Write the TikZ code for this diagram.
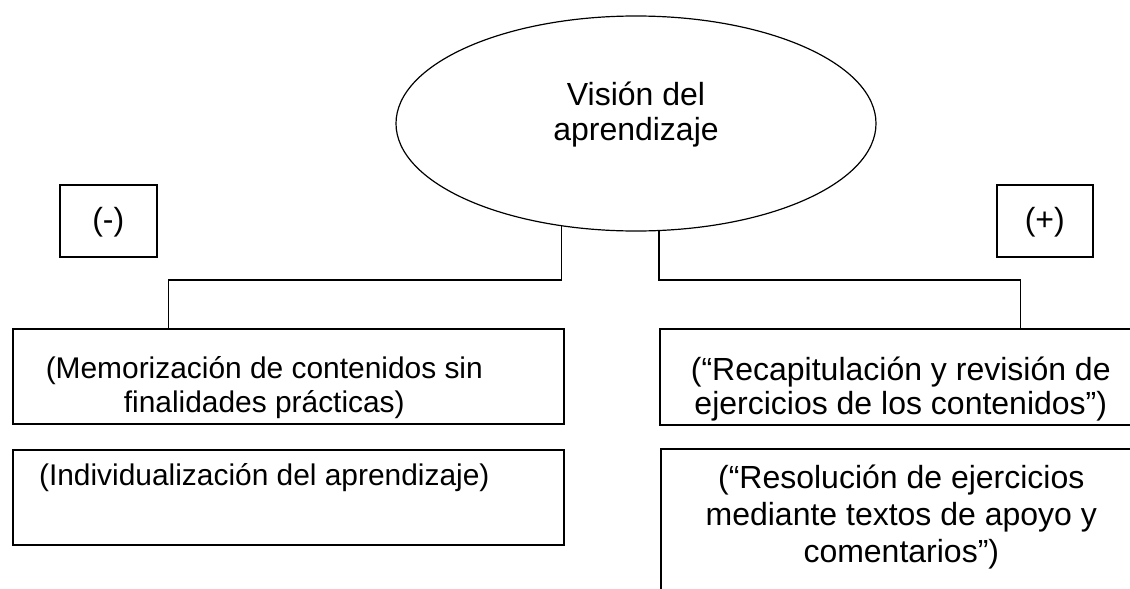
\documentclass[tikz,border=0pt]{standalone}
\usepackage{fontspec}
\setmainfont{Liberation Sans}
\usetikzlibrary{shapes.geometric}

% text block of fixed size, first baseline #3 below its top
\newcommand{\boxtext}[4]{\parbox[c][#2][t]{#1}{\vspace*{\dimexpr#3-\ht\strutbox\relax}\centering\strut#4}}

\begin{document}
\begin{tikzpicture}[x=1pt, y=-1pt,
    font=\fontsize{32}{35}\selectfont,
    box/.style={draw, line width=1.6pt, inner sep=0pt, anchor=north west},
    small/.style={font=\fontsize{29.9}{34}\selectfont},
    link/.style={draw, line width=1.3pt}]
    \useasboundingbox (0,0) rectangle (1130,589);
    \clip (0,0) rectangle (1130,589);

    \node[ellipse, draw, line width=1.2pt, inner sep=0pt,
          minimum width=480pt, minimum height=215pt] (vision) at (636,123.5)
         {\boxtext{200pt}{100pt}{31.5pt}{Visión del\\aprendizaje}};

    \node[box] (neg) at (59,184) {\boxtext{97pt}{72pt}{46pt}{(-)}};
    \node[box] (pos) at (996,184) {\boxtext{96pt}{72pt}{46pt}{(+)}};

    \node[box, small] (memo) at (12,328)
         {\boxtext{503pt}{95pt}{50pt}{(Memorización de contenidos sin\\finalidades prácticas)}\rule{48pt}{0pt}};
    \node[box, small] (indiv) at (12,449)
         {\boxtext{503pt}{95pt}{36pt}{(Individualización del aprendizaje)}\rule{48pt}{0pt}};

    \node[box, font=\fontsize{32}{33.5}\selectfont] (recap) at (659,328)
         {\boxtext{482pt}{96pt}{52pt}{(“Recapitulación y revisión de\\ejercicios de los contenidos”)}};
    \node[box, font=\fontsize{32}{37}\selectfont] (resol) at (660,448)
         {\boxtext{481pt}{160pt}{40pt}{(“Resolución de ejercicios\\mediante textos de apoyo y\\comentarios”)}};

    \draw[link] (vision.234.5) |- ([xshift=-119.5pt,yshift=48pt]memo.north)
                -- ([xshift=-119.5pt]memo.north);
    \draw[link] (vision.282.1) |- ([xshift=120pt,yshift=48pt]recap.north)
                -- ([xshift=120pt]recap.north);
\end{tikzpicture}
\end{document}
